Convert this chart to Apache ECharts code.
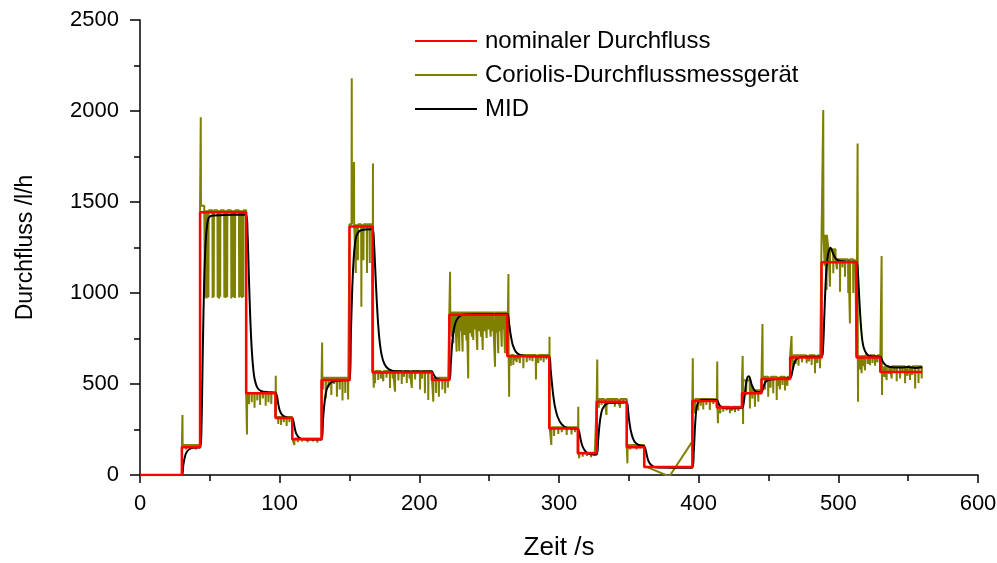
<!DOCTYPE html>
<html>
<head>
<meta charset="utf-8">
<title>Durchfluss</title>
<script src="https://cdn.jsdelivr.net/npm/echarts@6/dist/echarts.min.js"></script>
<style>
  html, body { margin: 0; padding: 0; background: #fff; }
  #chart { width: 997px; height: 563px; }
</style>
</head>
<body>
<div id="chart"></div>
<script>
// nominal flow: value holds from each time until the next one
const nominalTime = [0, 30, 43, 76, 97, 109, 130, 150, 166.5, 209, 221.5, 263, 293, 313.5, 327, 348.5, 361, 395.5, 413, 431, 445, 465.5, 488, 513, 530, 560]
const nominalFlow = [0, 152, 1443, 449, 313, 196, 522, 1366, 563, 522, 880, 652, 256, 119, 403, 152, 44, 406, 371, 449, 527, 646, 1169, 646, 566, 566]

// MID reading [t, l/h]
const midPoints = [
  [0, 0], [30, 0], [31, 55], [32, 95], [33, 120], [35, 140], [38, 150], [43, 152],
  [44, 260], [45, 700], [46, 1080], [47, 1280], [48, 1370], [49, 1410], [51, 1425], [60, 1428], [76, 1432],
  [77, 1330], [78, 1080], [79, 850], [80, 690], [81, 590], [82, 530], [84, 480], [87, 460], [92, 455], [97, 452],
  [98, 435], [99, 390], [100, 355], [102, 328], [105, 316], [109, 313],
  [110, 290], [111, 250], [112, 225], [114, 205], [117, 197], [130, 195],
  [131, 300], [132, 390], [133, 445], [134, 478], [136, 503], [139, 515], [145, 520], [150, 521],
  [151, 780], [152, 1030], [153, 1190], [154, 1275], [155, 1315], [157, 1340], [160, 1348], [166.5, 1350],
  [167.5, 1280], [168.5, 1120], [169.5, 960], [170.5, 830], [171.5, 740], [173, 660], [175, 610], [178, 582], [183, 570], [209, 568],
  [210, 555], [212, 532], [215, 524], [221.5, 522],
  [222.5, 610], [223.5, 720], [224.5, 790], [226, 840], [228, 866], [231, 880], [240, 885], [263, 885],
  [264, 850], [265, 790], [266, 745], [267, 712], [269, 678], [272, 660], [278, 653], [293, 650],
  [294, 580], [295, 500], [296, 430], [297, 380], [299, 320], [302, 278], [306, 258], [313.5, 252],
  [314.5, 235], [315.5, 195], [316.5, 165], [318, 140], [320, 122], [323, 114], [327, 112],
  [328, 190], [329, 275], [330, 330], [331, 360], [333, 385], [336, 395], [348.5, 398],
  [349.5, 350], [350.5, 285], [351.5, 240], [353, 200], [355, 175], [358, 162], [361, 158],
  [362, 140], [363, 105], [364, 78], [366, 55], [369, 42], [380, 40], [395.5, 40],
  [396.5, 130], [397.5, 280], [398.5, 370], [400, 405], [403, 414], [413, 412],
  [414, 398], [415, 382], [417, 370], [420, 367], [431, 368],
  [432, 385], [433, 440], [434, 505], [435, 538], [436, 543], [437, 525], [438, 495], [440, 465], [442, 455], [445, 456],
  [446, 472], [447, 498], [448, 512], [450, 522], [455, 527], [465.5, 533],
  [466.5, 548], [467.5, 585], [468.5, 615], [470, 636], [473, 648], [480, 650], [488, 650],
  [489, 690], [490, 880], [491, 1070], [492, 1175], [493, 1225], [494.5, 1248], [496, 1222], [498, 1190], [501, 1176], [506, 1172], [513, 1170],
  [514, 1110], [515, 970], [516, 840], [517, 750], [518, 705], [520, 668], [523, 652], [530, 650],
  [531, 638], [532, 620], [534, 603], [537, 594], [545, 590], [550, 593], [555, 588], [560, 592]
]

// Coriolis: plateau levels [from, to, l/h] ...
const corLevels = [
  [0, 30, 0], [30, 43, 165], [43, 46, 1480], [46, 76, 1455], [76, 97, 450], [97, 109, 318],
  [109, 130, 200], [130, 150, 535], [150, 166.5, 1378], [166.5, 209, 572], [209, 221.5, 535],
  [221.5, 263, 898], [263, 293, 660], [293, 313.5, 262], [313.5, 327, 122], [327, 348.5, 418],
  [348.5, 361, 165], [361, 362, 50], [379, 379, -8], [395.5, 395.5, 185], // data gap
  [395.5, 413, 418], [413, 431, 375], [431, 438, 520], [438, 445, 465], [445, 465.5, 540],
  [465.5, 488, 658], [488, 493, 1320], [493, 498, 1240], [498, 513, 1185], [513, 530, 658], [530, 560, 598]
]

// ... and its spikes [t, l/h]
const corSpikes = [
  [30.4, 330], [33, 140], [36, 145], [40, 140],
  [43.5, 1965],
  [46.6, 975], [47.6, 970], [48.4, 980], [49.0, 975],
  [52.0, 972], [52.8, 978],
  [55.6, 975], [56.6, 968], [57.4, 980],
  [60.4, 975], [61.4, 972], [62.4, 978],
  [65.4, 970], [66.4, 978], [67.4, 975], [68.0, 972],
  [71.0, 975], [72.0, 980], [73.0, 972], [74.0, 978],
  [76.6, 222], [78, 390], [80, 400], [82, 370], [84, 410], [86, 385], [88, 420], [90, 380], [92, 400], [94, 390],
  [97.2, 545], [99, 280], [101, 275], [103, 290], [105, 270], [107, 290],
  [110.5, 165], [113, 180], [116, 185], [120, 180], [124, 185], [127, 178],
  [130.4, 728], [131, 470], [133, 420], [135, 480], [137, 440], [139, 500], [141, 430], [143, 470], [145, 410], [147, 450], [149, 415],
  [151.6, 2180], [153.2, 1720], [154.5, 1110], [156, 1180], [158.5, 925], [160, 1180], [162.5, 1110], [164.5, 1165],
  [166.8, 1712], [167.4, 480], [168.3, 504], [170.6, 522], [172.5, 530], [174.2, 515], [176.5, 535], [179, 478], [181, 530],
  [182.6, 458], [185, 520], [187.4, 500], [189, 540], [191, 505], [193, 530], [194.6, 478], [197, 525], [200.5, 470],
  [202, 530], [204, 449], [206.4, 412],
  [210, 403], [212, 450], [214, 430], [216.5, 470], [218.5, 449], [220.5, 480],
  [222, 1117], [223.2, 760], [224.3, 724], [225.5, 780], [226.7, 678], [227.6, 760], [228.6, 680], [229.8, 790], [231, 678],
  [232.5, 770], [233.8, 740], [235, 531], [236.5, 780], [237.6, 760], [238.6, 742], [240, 800], [241.5, 687], [243, 790],
  [244.2, 760], [245.4, 687], [246.8, 790], [248.2, 753], [249.6, 800], [251.1, 760], [252.5, 790], [254.2, 595], [255.4, 780],
  [256.5, 669], [257.8, 790], [259, 705], [260.2, 800], [261.3, 669], [262.3, 780],
  [263.8, 1104], [264.3, 430], [265.5, 600], [267.3, 604], [268.5, 630], [269.7, 620], [271, 640], [272, 615], [274.5, 586],
  [276.9, 620], [279, 630], [281, 625], [283.5, 525], [285.2, 615], [287, 630], [289, 620], [291, 635],
  [293.2, 760], [294.5, 165], [296.5, 215], [299.5, 225], [302, 235], [305.5, 220], [309, 222], [311.5, 235],
  [313.8, 375], [314.5, 92], [317, 100], [320, 105], [323, 98], [325.5, 105],
  [327.4, 635], [328.5, 370], [330.5, 385], [332.5, 390], [334, 330], [336, 395], [338, 390], [340, 375], [342, 395], [343.7, 370], [346, 395],
  [349, 64], [351, 140], [353, 150], [355.5, 140], [358, 148],
  [395.8, 641], [397.4, 339], [399.7, 355], [401.5, 380], [403.3, 360], [405.5, 385], [408, 357], [410.5, 390],
  [413.3, 623], [413.8, 284], [415.5, 340], [417.6, 348], [420, 355], [422.4, 340], [424, 355], [426, 345], [428.5, 352],
  [431.5, 654], [431.8, 280], [434, 440], [436.7, 366], [438.5, 420], [440.3, 375], [442.7, 403],
  [445.7, 830], [447.5, 470], [449.8, 430], [451.5, 480], [453.4, 449], [455.9, 412], [457, 490], [458.2, 470], [460, 495], [461.8, 465], [463.5, 490],
  [466.5, 764], [467.5, 590], [469.5, 610], [471.5, 600], [474, 620], [477.3, 614], [479, 625], [480.9, 605], [483.3, 559], [485, 615], [486.9, 586],
  [489.2, 2005], [490.2, 1150], [491.6, 1016], [494, 1035], [496.4, 1108], [499, 1130], [501.2, 1007], [503, 1140], [504.8, 1090],
  [507.1, 1000], [508.3, 833], [510.7, 1000], [512, 1120],
  [513.8, 1822], [514.1, 403], [515.5, 580], [516.7, 559], [518, 600], [519.1, 575], [521, 610], [522.7, 604], [524.5, 615], [526.3, 600], [528, 620],
  [531, 1203], [531.3, 440], [533, 540], [534.6, 522], [536.5, 555], [538.2, 530], [540, 560], [541.8, 515], [544.2, 530], [546, 560],
  [547.8, 504], [549.5, 545], [551.3, 522], [553, 550], [555, 476], [557.4, 505], [559.7, 530]
]

const xTicks = { min: 0, max: 600, interval: 100 }
const yTicks = { min: 0, max: 2500, interval: 500 }

// build the Coriolis trace: plateau start, each spike as a narrow peak, plateau end
function buildCoriolis() {
  const out = []
  corLevels.forEach(function(seg) {
    const from = seg[0]
    const to = seg[1]
    const level = seg[2]
    out.push([from, level])
    corSpikes.forEach(function(s) {
      if (s[0] > from && s[0] < to) {
        out.push([s[0] - 0.15, level])
        out.push([s[0], s[1]])
        out.push([s[0] + 0.15, level])
      }
    })
    out.push([to, level])
  })
  return out
}

const nominalData = nominalTime.map(function(t, i) { return [t, nominalFlow[i]] })

const font = 'Liberation Sans, Arial, sans-serif'
const chart = echarts.init(document.getElementById('chart'))
chart.setOption({
  animation: false,
  backgroundColor: '#fff',
  textStyle: { fontFamily: font, color: '#000' },
  grid: { left: 140, right: 19, top: 20, bottom: 88, outerBoundsMode: 'none' },
  legend: {
    data: ['nominaler Durchfluss', 'Coriolis-Durchflussmessgerät', 'MID'],
    orient: 'vertical',
    left: 415,
    top: 29,
    padding: 0,
    icon: 'rect',
    itemWidth: 62,
    itemHeight: 2,
    itemGap: 10,
    textStyle: { fontSize: 24, fontFamily: font, color: '#000', padding: [0, 0, 0, 3] }
  },
  xAxis: {
    type: 'value',
    min: xTicks.min,
    max: xTicks.max,
    interval: xTicks.interval,
    name: 'Zeit /s',
    nameLocation: 'middle',
    nameGap: 60,
    nameTextStyle: { fontSize: 26, fontFamily: font, color: '#000' },
    axisLine: { lineStyle: { color: '#000', width: 1.5 } },
    axisTick: { length: 8, lineStyle: { color: '#000', width: 1.5 } },
    minorTick: { show: true, splitNumber: 2, length: 6, lineStyle: { color: '#000', width: 1.5 } },
    axisLabel: { fontSize: 22, color: '#000', margin: 18 },
    splitLine: { show: false }
  },
  yAxis: {
    type: 'value',
    min: yTicks.min,
    max: yTicks.max,
    interval: yTicks.interval,
    name: 'Durchfluss /l/h',
    nameLocation: 'middle',
    nameGap: 103,
    nameTextStyle: { fontSize: 23, fontFamily: font, color: '#000' },
    axisLine: { show: true, lineStyle: { color: '#000', width: 1.5 } },
    axisTick: { show: true, length: 10, lineStyle: { color: '#000', width: 1.5 } },
    minorTick: { show: true, splitNumber: 2, length: 6, lineStyle: { color: '#000', width: 1.5 } },
    axisLabel: {
      fontSize: 22,
      color: '#000',
      margin: 21,
      formatter: function(v) { return String(v) }
    },
    splitLine: { show: false }
  },
  series: [
    {
      name: 'Coriolis-Durchflussmessgerät',
      type: 'line',
      symbol: 'none',
      z: 1,
      data: buildCoriolis(),
      lineStyle: { color: '#808000', width: 2 },
      itemStyle: { color: '#808000' }
    },
    {
      name: 'MID',
      type: 'line',
      symbol: 'none',
      smooth: 0.3,
      z: 2,
      data: midPoints,
      lineStyle: { color: '#000', width: 2 },
      itemStyle: { color: '#000' }
    },
    {
      name: 'nominaler Durchfluss',
      type: 'line',
      symbol: 'none',
      step: 'end',
      z: 3,
      data: nominalData,
      lineStyle: { color: '#ff0000', width: 2.5 },
      itemStyle: { color: '#ff0000' }
    }
  ]
})
</script>
</body>
</html>
